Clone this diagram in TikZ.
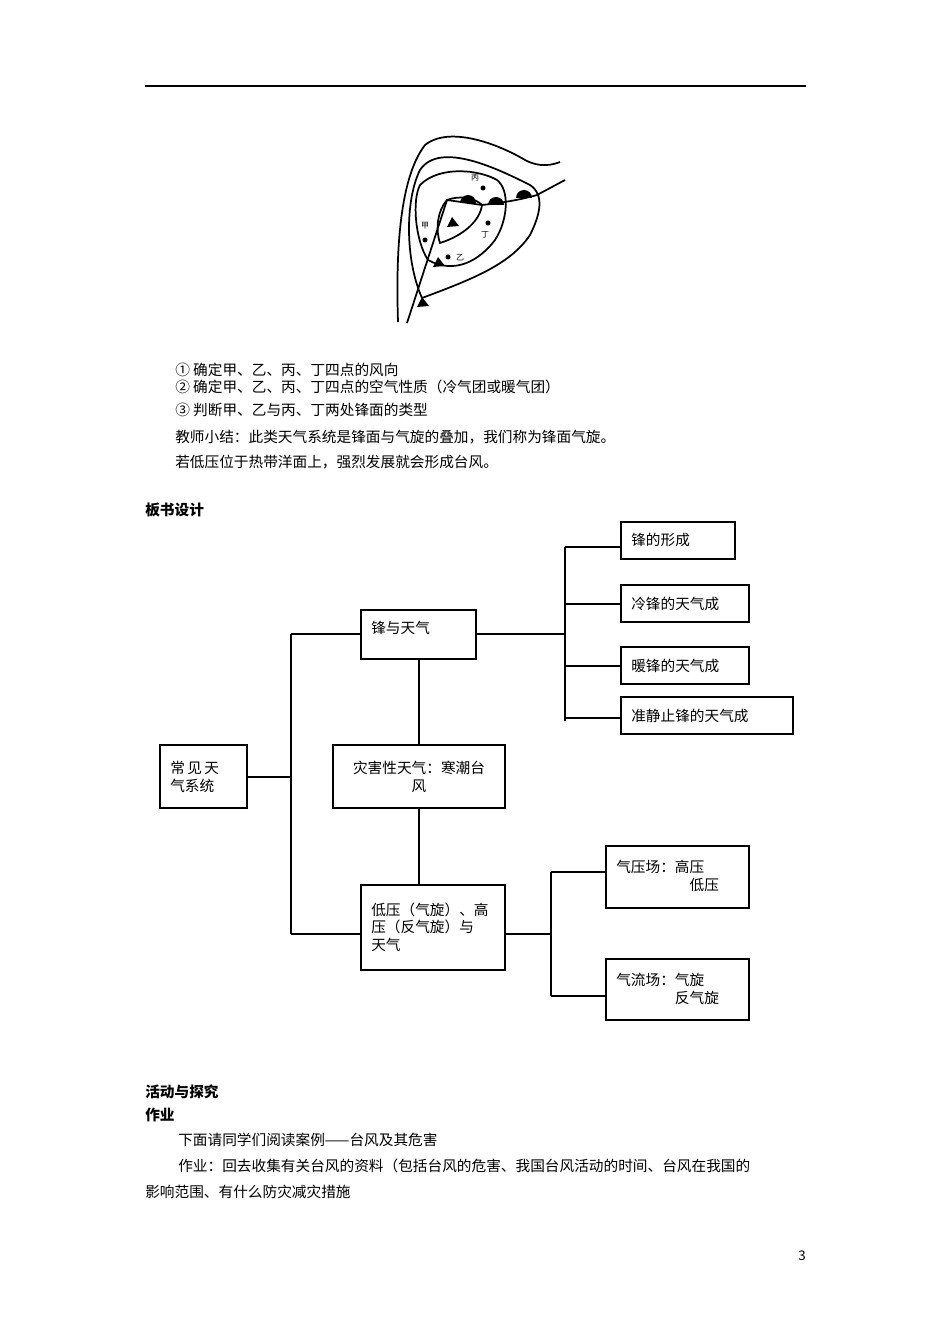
\documentclass[tikz,border=0pt]{standalone}
\usepackage{fontspec}
\setmainfont{Noto Sans CJK SC}
\begin{document}
\begin{tikzpicture}[x=0.75pt,y=-0.75pt,
  bx/.style={draw,line width=0.9pt},
  ln/.style={line width=0.9pt},
  tx/.style={anchor=west,inner sep=0pt,font=\fontsize{11}{13}\selectfont},
  btx/.style={anchor=west,inner sep=0pt,font=\fontsize{11}{13}\selectfont,align=left},
  mp/.style={line width=1.3pt}]
\useasboundingbox (0,0) rectangle (950,1344);
\draw[line width=0.8pt] (145,86) -- (806,86);
% map
\draw[mp] (398,322) .. controls (396,260) and (398,180) .. (425,145) .. controls (450,125) and (500,145) .. (525,160) .. controls (540,168) and (552,165) .. (560,162);
\draw[mp] (422,298) .. controls (405,260) and (405,200) .. (420,170) .. controls (440,140) and (500,170) .. (530,185) .. controls (545,195) and (540,215) .. (530,235) .. controls (510,265) and (470,280) .. (422,298);
\draw[mp] (428,260) .. controls (415,240) and (412,200) .. (420,185) .. controls (440,165) and (480,170) .. (497,180) .. controls (510,190) and (508,220) .. (495,240) .. controls (480,260) and (455,275) .. (428,260);
\draw[mp] (447,200) .. controls (460,195) and (475,198) .. (482,205) .. controls (480,220) and (465,235) .. (440,243) .. controls (435,228) and (438,210) .. (447,200);
\draw[mp] (407,323) -- (447,200) -- (482,205) .. controls (500,203) and (520,200) .. (537,195) -- (565,180);
\foreach \p in {(422,302),(438,262),(452,222)} \fill \p ++(-5,5) -- ++(12,-1) -- ++(-7,-9) -- cycle;
\foreach \p in {(468,203),(496,205),(524,198)} \fill \p ++(-8,0) arc (180:360:8) -- cycle;
\foreach \p in {(483,188),(425,240),(448,257),(488,223)} \fill \p circle (2.5);
\node[font=\fontsize{6}{6}\selectfont] (a) at (475,178) {丙};
\node[font=\fontsize{6}{6}\selectfont] (b) at (425,226) {甲};
\node[font=\fontsize{6}{6}\selectfont] (c) at (460,258) {乙};
\node[font=\fontsize{6}{6}\selectfont] (d) at (485,235) {丁};
% text
\node[tx] (t1) at (175,370) {① 确定甲、乙、丙、丁四点的风向};
\node[tx] (t2) at (175,387) {② 确定甲、乙、丙、丁四点的空气性质（冷气团或暖气团）};
\node[tx] (t3) at (175,410) {③ 判断甲、乙与丙、丁两处锋面的类型};
\node[tx] (t4) at (175,437) {教师小结：此类天气系统是锋面与气旋的叠加，我们称为锋面气旋。};
\node[tx] (t5) at (175,462) {若低压位于热带洋面上，强烈发展就会形成台风。};
\node[tx,font=\fontsize{11}{13}\selectfont\bfseries] (h1) at (145,510) {板书设计};
\node[tx,font=\fontsize{11}{13}\selectfont\bfseries] (h2) at (145,1092) {活动与探究};
\node[tx,font=\fontsize{11}{13}\selectfont\bfseries] (h3) at (145,1115) {作业};
\node[tx] (t6) at (178,1140) {下面请同学们阅读案例——台风及其危害};
\node[tx,text width=628pt*0.75,align=justify] (t7) at (178,1166) {作业：回去收集有关台风的资料（包括台风的危害、我国台风活动的时间、台风在我国的};
\node[tx] (t8) at (145,1192) {影响范围、有什么防灾减灾措施};
\node[anchor=east,inner sep=0pt,font=\fontsize{10}{12}\selectfont] (pg) at (806,1256) {3};
% boxes
\draw[bx] (621,522) rectangle (735,559); \node[btx] (r1) at (631,540) {锋的形成};
\draw[bx] (621,585) rectangle (749,622); \node[btx] (r2) at (631,604) {冷锋的天气成};
\draw[bx] (621,647) rectangle (749,684); \node[btx] (r3) at (631,666) {暖锋的天气成};
\draw[bx] (621,697) rectangle (793,734); \node[btx] (r4) at (631,716) {准静止锋的天气成};
\draw[bx] (361,610) rectangle (476,659); \node[btx] (m1) at (371,628) {锋与天气};
\draw[bx] (160,745) rectangle (247,808); \node[btx] (l1) at (170,777) {常\,见\,天\\气系统};
\draw[bx] (333,745) rectangle (505,808); \node[tx,anchor=center,align=center] (m2) at (419,777) {灾害性天气：寒潮台\\风};
\draw[bx] (361,885) rectangle (505,970); \node[btx] (m3) at (371,927) {低压（气旋）、高\\压（反气旋）与\\天气};
\draw[bx] (606,846) rectangle (749,908); \node[btx] (s1) at (616,876) {气压场：高压\\\hspace*{5em}低压};
\draw[bx] (606,959) rectangle (749,1020); \node[btx] (s2) at (616,989) {气流场：气旋\\\hspace*{4em}反气旋};
% connectors
\draw[ln] (291,634) -- (291,934);
\draw[ln] (247,777) -- (291,777);
\draw[ln] (291,634) -- (361,634);
\draw[ln] (291,934) -- (361,934);
\draw[ln] (419,659) -- (419,745);
\draw[ln] (419,808) -- (419,885);
\draw[ln] (476,634) -- (565,634);
\draw[ln] (565,547) -- (565,721);
\foreach \y in {547,604,666,718} \draw[ln] (565,\y) -- (621,\y);
\draw[ln] (505,934) -- (551,934);
\draw[ln] (551,872) -- (551,996);
\foreach \y in {872,996} \draw[ln] (551,\y) -- (606,\y);
\end{tikzpicture}
\end{document}
